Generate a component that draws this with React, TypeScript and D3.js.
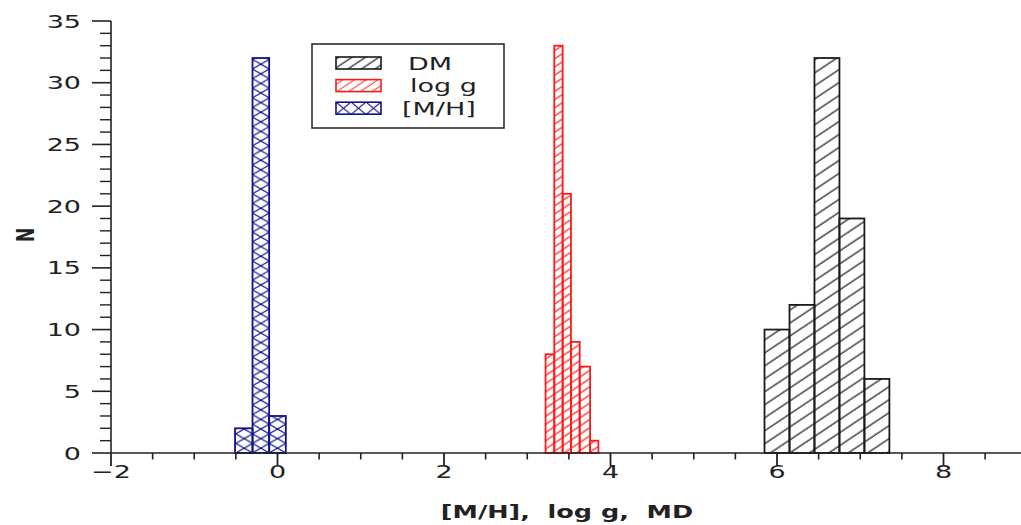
import React from "react";
import * as d3 from "d3";

// ---- data ----
const dmEdges = [5.85, 6.15, 6.45, 6.75, 7.05, 7.35];
const dmCounts = [10, 12, 32, 19, 6];
const loggEdges = [3.22, 3.325, 3.425, 3.525, 3.63, 3.755, 3.855];
const loggCounts = [8, 33, 21, 9, 7, 1];
const mhEdges = [-0.51, -0.3, -0.1, 0.1];
const mhCounts = [2, 32, 3];
const legendLabels = ["DM", "log g", "[M/H]"];
const xMajorTicks = [-2, 0, 2, 4, 6, 8];
const yMajorTicks = [0, 5, 10, 15, 20, 25, 30, 35];
const xTitle = "[M/H],  log g,  MD";
const yTitle = "N";

const W = 1021;
const H = 525;
const SX = 1.5; // horizontal stretch of the original figure
const FONT = "DejaVu Sans";

const x = d3.scaleLinear().domain([-2, 9]).range([111, 1026.75]);
const y = d3.scaleLinear().domain([0, 35]).range([453, 21]);

const xMinor = d3.range(-2, 9.01, 0.5).filter((v) => !xMajorTicks.includes(v));
const yMinor = d3.range(0, 35.01, 1).filter((v) => !yMajorTicks.includes(v));

function SText(props: any) {
  const { x: tx, y: ty, anchor = "middle", size = 18, weight = "normal", rotate, children, fill = "#222" } = props;
  return (
    <text
      transform={`translate(${tx},${ty}) scale(${SX},1)${rotate ? ` rotate(${rotate})` : ""}`}
      textAnchor={anchor}
      fontSize={size}
      fontWeight={weight}
      fontFamily={FONT}
      fill={fill}
      style={{ whiteSpace: "pre" }}
    >
      {children}
    </text>
  );
}

function bins(edges: number[], counts: number[]) {
  return counts.map((c, i) => ({ x0: edges[i], x1: edges[i + 1], n: c }));
}

const series = [
  { key: "dm", data: bins(dmEdges, dmCounts), stroke: "#1a1a1a", fill: "url(#hatchBlack)" },
  { key: "logg", data: bins(loggEdges, loggCounts), stroke: "#ff1a1a", fill: "url(#hatchRed)" },
  { key: "mh", data: bins(mhEdges, mhCounts), stroke: "#10108a", fill: "url(#hatchBlue)" },
];

const legendSw = [
  { stroke: "#1a1a1a", fill: "url(#legBlack)", dx: 6 },
  { stroke: "#ff1a1a", fill: "url(#legRed)", dx: 8 },
  { stroke: "#10108a", fill: "url(#legBlue)", dx: 0 },
];

export default function App() {
  const ang = -33.7;
  const blueX0 = x(mhEdges[1]);
  const blueW = x(mhEdges[2]) - x(mhEdges[1]);
  return (
    <svg width={W} height={H} style={{ position: "absolute", left: 0, top: 0, background: "#fff" }}>
      <defs>
        <pattern id="hatchBlack" patternUnits="userSpaceOnUse" width={40} height={10.8} patternTransform={`rotate(${ang})`}>
          <line x1={0} y1={5} x2={40} y2={5} stroke="#1a1a1a" strokeWidth={1.1} />
        </pattern>
        <pattern id="hatchRed" patternUnits="userSpaceOnUse" width={40} height={6.8} patternTransform={`rotate(${ang})`}>
          <line x1={0} y1={3} x2={40} y2={3} stroke="#ff1a1a" strokeWidth={1.1} />
        </pattern>
        <pattern id="hatchBlue" patternUnits="userSpaceOnUse" x={blueX0} y={y(0)} width={blueW} height={9.6}>
          <line x1={0} y1={0} x2={blueW} y2={9.6} stroke="#10108a" strokeWidth={1.1} />
          <line x1={0} y1={9.6} x2={blueW} y2={0} stroke="#10108a" strokeWidth={1.1} />
        </pattern>
        <pattern id="legBlack" patternUnits="userSpaceOnUse" width={40} height={7.5} patternTransform={`rotate(${ang})`}>
          <line x1={0} y1={3} x2={40} y2={3} stroke="#1a1a1a" strokeWidth={1.1} />
        </pattern>
        <pattern id="legRed" patternUnits="userSpaceOnUse" width={40} height={6.5} patternTransform={`rotate(${ang})`}>
          <line x1={0} y1={3} x2={40} y2={3} stroke="#ff1a1a" strokeWidth={1.1} />
        </pattern>
        <pattern id="legBlue" patternUnits="userSpaceOnUse" x={336} y={102} width={15} height={12.5}>
          <line x1={0} y1={0} x2={15} y2={12.5} stroke="#10108a" strokeWidth={1.1} />
          <line x1={0} y1={12.5} x2={15} y2={0} stroke="#10108a" strokeWidth={1.1} />
        </pattern>
      </defs>

      {/* bars */}
      {series.map((s) => (
        <g key={s.key}>
          {s.data.map((b, i) => (
            <rect
              key={i}
              x={x(b.x0)}
              y={y(b.n)}
              width={x(b.x1) - x(b.x0)}
              height={y(0) - y(b.n)}
              fill={s.fill}
              stroke={s.stroke}
              strokeWidth={1.8}
            />
          ))}
        </g>
      ))}

      {/* x axis */}
      <line x1={x(-2)} x2={W} y1={y(0)} y2={y(0)} stroke="#222" strokeWidth={1.6} />
      {xMajorTicks.map((t) => (
        <g key={`xm${t}`}>
          <line x1={x(t)} x2={x(t)} y1={y(0)} y2={y(0) + 13} stroke="#222" strokeWidth={1.8} />
          <SText x={x(t)} y={478}>{d3.format("")(t)}</SText>
        </g>
      ))}
      {xMinor.map((t) => (
        <line key={`xn${t}`} x1={x(t)} x2={x(t)} y1={y(0)} y2={y(0) + 6.5} stroke="#222" strokeWidth={1.6} />
      ))}

      {/* y axis */}
      <line x1={x(-2)} x2={x(-2)} y1={y(35)} y2={y(0)} stroke="#222" strokeWidth={1.6} />
      {yMajorTicks.map((t) => (
        <g key={`ym${t}`}>
          <line x1={x(-2) - 19} x2={x(-2)} y1={y(t)} y2={y(t)} stroke="#222" strokeWidth={1.6} />
          <SText x={81} y={y(t) + 6.5} anchor="end">{String(t)}</SText>
        </g>
      ))}
      {yMinor.map((t) => (
        <line key={`yn${t}`} x1={x(-2) - 11} x2={x(-2)} y1={y(t)} y2={y(t)} stroke="#222" strokeWidth={1.4} />
      ))}

      {/* titles */}
      <SText x={567} y={518} weight="bold" size={17}>{xTitle}</SText>
      <SText x={34} y={235} weight="bold" size={17} rotate={-90}>{yTitle}</SText>

      {/* legend */}
      <rect x={312} y={44} width={192} height={84} fill="#fff" stroke="#222" strokeWidth={1.5} />
      {legendLabels.map((lab, i) => (
        <g key={lab}>
          <rect x={336} y={57 + i * 22.6} width={45} height={12} fill={legendSw[i].fill} stroke={legendSw[i].stroke} strokeWidth={1.6} />
          <SText x={402 + legendSw[i].dx} y={69.5 + i * 22.6} anchor="start">{lab}</SText>
        </g>
      ))}
    </svg>
  );
}
